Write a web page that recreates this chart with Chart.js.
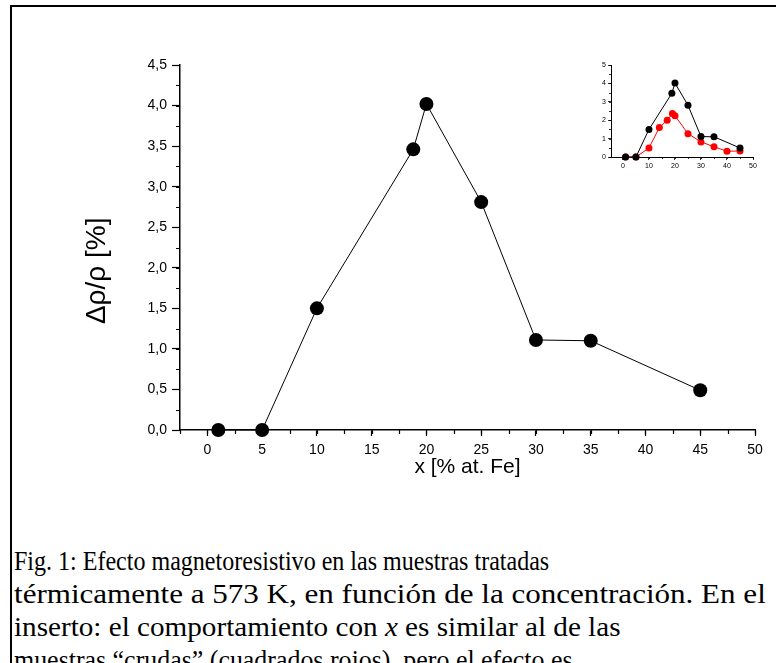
<!DOCTYPE html>
<html>
<head>
<meta charset="utf-8">
<script src="https://cdn.jsdelivr.net/npm/chart.js@4.4.0/dist/chart.umd.min.js"></script>
<style>
  html, body { margin: 0; padding: 0; background: #fff; width: 776px; height: 663px; overflow: hidden; position: relative; }
  #marco { position: absolute; left: 10px; top: 5px; width: 800px; height: 700px; border: 2px solid #000; box-sizing: border-box; }
  #grafUtama { position: absolute; left: 0; top: 0; }
  #grafInset { position: absolute; left: 585px; top: 55px; }
  #caption { position: absolute; left: 14px; top: 545px; font-family: "Liberation Serif", "Times New Roman", serif; font-size: 27px; line-height: 33px; white-space: nowrap; color: #000; }
  #caption div { transform-origin: 0 50%; }
</style>
</head>
<body>
<div id="marco"></div>
<canvas id="grafUtama" width="776" height="500"></canvas>
<canvas id="grafInset" width="180" height="120"></canvas>
<div id="caption">
  <div style="transform: scaleX(0.89)">Fig. 1: Efecto magnetoresistivo en las muestras tratadas</div>
  <div style="transform: scaleX(1.15)">térmicamente a 573 K, en función de la concentración. En el</div>
  <div style="transform: scaleX(1.08)">inserto: el comportamiento con <i>x</i> es similar al de las</div>
  <div style="transform: scaleX(0.96)">muestras “crudas” (cuadrados rojos), pero el efecto es</div>
</div>

<script>
// data utama (muestras tratadas a 573 K)
const xTratadas = [1, 5, 10, 18.8, 20, 25, 30, 35, 45];
const rhoTratadas = [0, 0, 1.5, 3.46, 4.02, 2.81, 1.11, 1.1, 0.49];

// inset: muestras crudas (merah)
const xCrudas = [1, 5, 10, 14, 17, 19, 20, 25, 30, 35, 40, 45];
const rhoCrudas = [0, 0, 0.49, 1.6, 2.0, 2.36, 2.24, 1.27, 0.82, 0.56, 0.31, 0.33];

// tick labels
const xTicks = [0, 5, 10, 15, 20, 25, 30, 35, 40, 45, 50];
const yTicks = [0, 0.5, 1, 1.5, 2, 2.5, 3, 3.5, 4, 4.5];
const xTicksInset = [0, 10, 20, 30, 40, 50];
const yTicksInset = [0, 1, 2, 3, 4, 5];

const toPoints = (xs, ys) => xs.map((x, i) => ({ x: x, y: ys[i] }));
const koma = (v) => v.toFixed(1).replace('.', ',');

// minor ticks, digambar lewat skala chart.js
const minorTicks = {
  id: 'minorTicks',
  afterDraw(chart, args, opts) {
    const ctx = chart.ctx;
    const sx = chart.scales.x, sy = chart.scales.y;
    const area = chart.chartArea;
    ctx.save();
    ctx.strokeStyle = '#000';
    ctx.lineWidth = opts.width;
    ctx.beginPath();
    for (let v = Math.ceil(sx.min / opts.x) * opts.x; v <= sx.max + 1e-9; v += opts.x) {
      const px = Math.round(sx.getPixelForValue(v)) + 0.5;
      ctx.moveTo(px, area.bottom);
      ctx.lineTo(px, area.bottom + opts.len);
    }
    for (let v = Math.ceil(sy.min / opts.y) * opts.y; v <= sy.max + 1e-9; v += opts.y) {
      const py = Math.round(sy.getPixelForValue(v)) + 0.5;
      ctx.moveTo(area.left, py);
      ctx.lineTo(area.left - opts.len, py);
    }
    ctx.stroke();
    ctx.restore();
  }
};

Chart.defaults.font.family = 'Arial, "Liberation Sans", sans-serif';
Chart.defaults.color = '#000';

// chart utama
new Chart(document.getElementById('grafUtama'), {
  type: 'line',
  data: {
    datasets: [{
      data: toPoints(xTratadas, rhoTratadas),
      borderColor: '#000',
      borderWidth: 1,
      backgroundColor: '#000',
      pointRadius: 7,
      pointBackgroundColor: '#000',
      pointBorderWidth: 0,
      tension: 0,
      clip: false
    }]
  },
  options: {
    responsive: false,
    animation: false,
    events: [],
    layout: { padding: { left: 80, top: 65, right: 21, bottom: 0 } },
    plugins: {
      legend: { display: false },
      tooltip: { enabled: false },
      minorTicks: { x: 2.5, y: 0.25, len: 4, width: 1.2 }
    },
    scales: {
      x: {
        type: 'linear',
        min: -2.5,
        max: 50,
        afterBuildTicks: (s) => { s.ticks = xTicks.map(v => ({ value: v })); },
        afterFit: (s) => { s.height = 70; },
        border: { color: '#000', width: 1.5 },
        grid: { drawOnChartArea: false, tickLength: 6, tickColor: '#000', tickWidth: 1.2 },
        ticks: { font: { size: 14 }, padding: 6, maxRotation: 0, callback: (v) => String(v) },
        title: { display: true, text: 'x [% at. Fe]', font: { size: 21 }, padding: 20 }
      },
      y: {
        type: 'linear',
        min: 0,
        max: 4.5,
        afterBuildTicks: (s) => { s.ticks = yTicks.map(v => ({ value: v })); },
        afterFit: (s) => { s.width = 100; },
        border: { color: '#000', width: 1.5 },
        grid: { drawOnChartArea: false, tickLength: 8, tickColor: '#000', tickWidth: 1.2 },
        ticks: { font: { size: 14 }, padding: 5, callback: (v) => koma(v) },
        // spasi di belakang biar judulnya agak turun seperti aslinya
        title: { display: true, text: 'Δρ/ρ [%]      ', font: { size: 28 }, padding: 0 }
      }
    }
  },
  plugins: [minorTicks]
});

// inset
new Chart(document.getElementById('grafInset'), {
  type: 'line',
  data: {
    datasets: [{
      data: toPoints(xTratadas, rhoTratadas),
      borderColor: '#000',
      borderWidth: 1,
      pointRadius: 3.5,
      pointBackgroundColor: '#000',
      pointBorderWidth: 0,
      clip: false
    }, {
      data: toPoints(xCrudas, rhoCrudas),
      borderColor: '#ff0000',
      borderWidth: 1,
      pointRadius: 3.5,
      pointBackgroundColor: '#ff0000',
      pointBorderWidth: 0,
      clip: false
    }]
  },
  options: {
    responsive: false,
    animation: false,
    events: [],
    layout: { padding: { left: 6, top: 10, right: 12, bottom: 0 } },
    plugins: {
      legend: { display: false },
      tooltip: { enabled: false },
      minorTicks: { x: 5, y: 0.5, len: 2, width: 0.8 }
    },
    scales: {
      x: {
        type: 'linear',
        min: -4.6,
        max: 50,
        afterBuildTicks: (s) => { s.ticks = xTicksInset.map(v => ({ value: v })); },
        afterFit: (s) => { s.height = 18; },
        border: { color: '#000', width: 1 },
        grid: { drawOnChartArea: false, tickLength: 3, tickColor: '#000', tickWidth: 0.8 },
        ticks: { font: { size: 7 }, padding: 2, maxRotation: 0 }
      },
      y: {
        type: 'linear',
        min: 0,
        max: 5,
        afterBuildTicks: (s) => { s.ticks = yTicksInset.map(v => ({ value: v })); },
        afterFit: (s) => { s.width = 20; },
        border: { color: '#000', width: 1 },
        grid: { drawOnChartArea: false, tickLength: 3, tickColor: '#000', tickWidth: 0.8 },
        ticks: { font: { size: 7 }, padding: 2 }
      }
    }
  },
  plugins: [minorTicks]
});
</script>
</body>
</html>
